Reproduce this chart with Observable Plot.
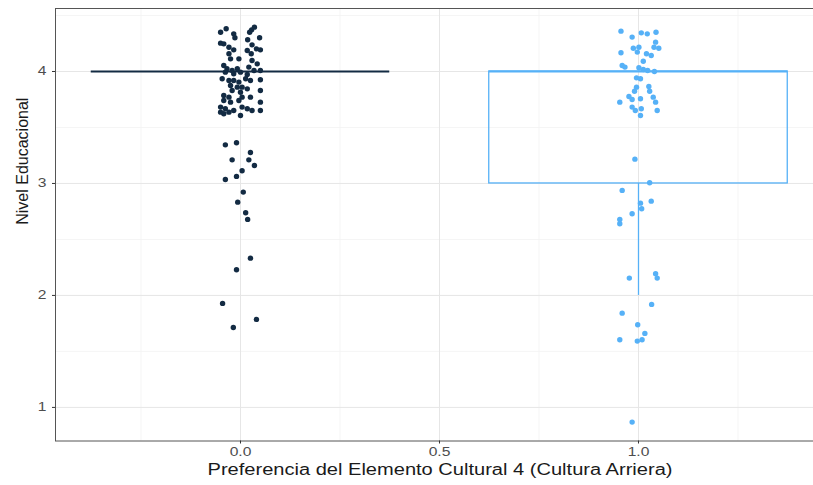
<!DOCTYPE html>
<html><head><meta charset="utf-8">
<script src="https://cdn.jsdelivr.net/npm/d3@7"></script>
<script src="https://cdn.jsdelivr.net/npm/@observablehq/plot@0.6"></script>
<style>
html,body{margin:0;padding:0;background:#fff;overflow:hidden;}
#chart svg{display:block;font-family:"Liberation Sans",Arial,sans-serif;}
</style>
</head><body><div id="chart"></div>
<script>
// Jittered points, group 0 (Preferencia = 0)
const g0x = [-0.050,-0.036,-0.017,0.028,0.035,0.023,0.048,0.018,-0.014,-0.050,-0.042,-0.029,-0.017,0.029,0.040,0.050,0.017,0.027,-0.029,-0.025,-0.004,0.029,0.042,-0.042,-0.034,-0.021,-0.008,0.021,0.034,0.050,-0.038,-0.017,0.000,0.017,-0.046,-0.029,-0.017,-0.004,0.013,0.025,0.050,-0.025,-0.008,0.004,0.017,-0.021,0.000,0.050,-0.042,-0.029,0.004,-0.042,-0.025,-0.004,0.025,0.050,-0.050,-0.038,-0.017,0.004,0.017,0.029,0.050,-0.042,0.000,-0.029,-0.050,
  -0.010,-0.038,0.025,-0.021,0.021,0.035,0.004,-0.010,-0.038,0.007,-0.007,0.013,0.018,0.025,-0.010,-0.045,-0.018,0.040];
const g0y = [4.351,4.381,4.336,4.372,4.396,4.351,4.301,4.283,4.301,4.253,4.247,4.217,4.193,4.238,4.202,4.193,4.188,4.158,4.158,4.113,4.113,4.098,4.068,4.054,4.024,4.009,4.024,4.039,4.009,4.009,3.994,3.979,3.994,3.973,3.935,3.920,3.920,3.905,3.935,3.920,3.926,3.875,3.860,3.860,3.845,3.830,3.815,3.830,3.786,3.771,3.771,3.741,3.726,3.741,3.771,3.726,3.682,3.667,3.652,3.682,3.667,3.652,3.652,3.622,3.607,3.637,3.637,
  3.363,3.345,3.277,3.211,3.211,3.161,3.113,3.063,3.035,2.923,2.833,2.738,2.679,2.333,2.229,1.929,1.714,1.786];
// Jittered points, group 1 (Preferencia = 1)
const g1x = [0.956,0.984,1.007,1.022,1.044,1.043,0.987,1.001,0.997,1.039,1.051,0.956,1.020,1.032,1.012,0.959,0.966,1.001,1.012,1.023,1.040,0.995,1.005,0.995,0.990,1.026,1.028,0.976,0.984,1.005,1.037,0.953,1.043,0.984,0.992,1.007,1.005,1.047,
  0.991,1.028,0.959,1.005,1.032,1.008,0.984,0.953,0.953,0.977,1.043,1.047,
  1.033,0.959,0.998,1.016,0.953,0.997,1.009,0.984];
const g1y = [4.360,4.307,4.345,4.336,4.351,4.262,4.208,4.217,4.173,4.217,4.208,4.167,4.158,4.143,4.092,4.054,4.039,4.033,4.018,4.009,4.000,3.943,3.935,3.860,3.824,3.866,3.824,3.777,3.750,3.756,3.771,3.726,3.726,3.682,3.652,3.667,3.607,3.652,
  3.217,3.006,2.938,2.824,2.842,2.774,2.729,2.679,2.640,2.155,2.194,2.155,
  1.920,1.842,1.738,1.661,1.604,1.592,1.604,0.869];

// Boxplot summaries
const groups = [0, 1];
const q1 = [4, 3];
const median = [4, 4];
const q3 = [4, 4];
const whiskerLow = [4, 2];
const whiskerHigh = [4, 4];
const boxColors = ["#132B43", "#56B1F7"];

// Axis ticks / grid
const xMajor = [0, 0.5, 1];
const xMinor = [-0.25, 0.25, 0.75, 1.25];
const yMajor = [1, 2, 3, 4];
const yMinor = [1.5, 2.5, 3.5, 4.5];

const xTitle = "Preferencia del Elemento Cultural 4 (Cultura Arriera)";
const yTitle = "Nivel Educacional";

const points = [
  ...g0x.map((x, i) => ({x, y: g0y[i], c: boxColors[0]})),
  ...g1x.map((x, i) => ({x, y: g1y[i], c: boxColors[1]}))
];
const boxes = groups.map((g, i) => ({
  g, x1: g - 0.375, x2: g + 0.375, q1: q1[i], med: median[i], q3: q3[i],
  lo: whiskerLow[i], hi: whiskerHigh[i], c: boxColors[i]
}));
const realBoxes = boxes.filter(b => b.q3 > b.q1);
const fmtX = d => d.toFixed(1);
const fmtY = d => String(d);

const chart = Plot.plot({
  width: 813,
  height: 485,
  marginLeft: 55,
  marginRight: 0,
  marginTop: 8,
  marginBottom: 44.5,
  x: {domain: [-0.4648, 1.4397], axis: null},
  y: {domain: [0.70, 4.5625], axis: null},
  marks: [
    Plot.ruleX(xMinor, {stroke: "#F2F2F2", strokeWidth: 0.8}),
    Plot.ruleY(yMinor, {stroke: "#F2F2F2", strokeWidth: 0.8}),
    Plot.ruleX(xMajor, {stroke: "#E6E6E6", strokeWidth: 1}),
    Plot.ruleY(yMajor, {stroke: "#E6E6E6", strokeWidth: 1}),
    // whiskers
    Plot.ruleX(boxes.filter(b => b.q1 > b.lo), {x: "g", y1: "lo", y2: "q1", stroke: "c", strokeWidth: 1.3}),
    Plot.ruleX(boxes.filter(b => b.hi > b.q3), {x: "g", y1: "q3", y2: "hi", stroke: "c", strokeWidth: 1.3}),
    // boxes
    Plot.rect(realBoxes, {x1: "x1", x2: "x2", y1: "q1", y2: "q3", fill: "none", stroke: "c", strokeWidth: 1.3}),
    // medians
    Plot.ruleY(boxes, {y: "med", x1: "x1", x2: "x2", stroke: "c", strokeWidth: 2}),
    // jittered points
    Plot.dot(points, {x: "x", y: "y", fill: "c", r: 2.7, stroke: "none"}),
    Plot.frame({stroke: "#555", strokeWidth: 1}),
    Plot.axisX(xMajor, {tickFormat: fmtX, tickSize: 3, tickPadding: 3, fontSize: 12, color: "#4D4D4D", stroke: "#333", label: null}),
    Plot.axisY(yMajor, {tickFormat: fmtY, tickSize: 3, tickPadding: 6, fontSize: 12, color: "#4D4D4D", stroke: "#333", label: null}),
    Plot.text([xTitle], {frameAnchor: "bottom", dx: 5.5, dy: 29, fontSize: 16, fill: "#1a1a1a", lineAnchor: "middle"}),
    Plot.text([yTitle], {frameAnchor: "left", dx: -33, rotate: -90, fontSize: 16, fill: "#1a1a1a", lineAnchor: "middle"})
  ]
});
document.getElementById("chart").appendChild(chart);

// Horizontal stretch of the reference's texts (matched by content)
const tickTexts = new Set([...xMajor.map(fmtX), ...yMajor.map(fmtY)]);
chart.querySelectorAll("text").forEach(t => {
  const s = t.textContent;
  if (s === xTitle) {
    t.setAttribute("textLength", "465");
    t.setAttribute("lengthAdjust", "spacingAndGlyphs");
  } else if (tickTexts.has(s)) {
    const w = t.getComputedTextLength();
    t.setAttribute("textLength", (w * 1.3).toFixed(1));
    t.setAttribute("lengthAdjust", "spacingAndGlyphs");
  }
});
</script>
</body></html>
